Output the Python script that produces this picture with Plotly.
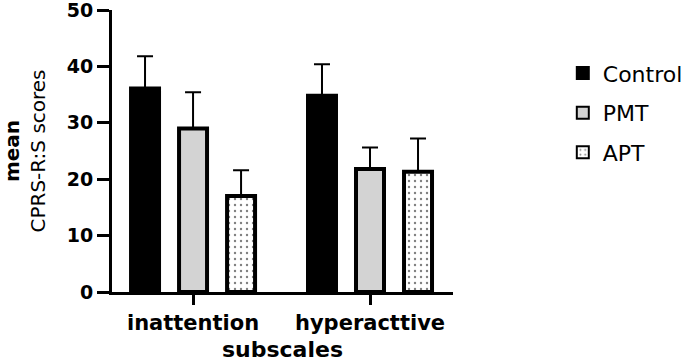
import plotly.graph_objects as go

categories = ["inattention", "hyperacttive"]
series_names = ["Control", "PMT", "APT"]
control_mean = [36.1, 34.8]
control_err = [5.7, 5.6]
pmt_mean = [29.0, 21.8]
pmt_err = [6.4, 3.8]
apt_mean = [17.0, 21.3]
apt_err = [4.6, 5.9]
y_ticks = [0, 10, 20, 30, 40, 50]

FONT = "DejaVu Sans, Arial, sans-serif"

styles = {
    "Control": dict(color="black", line=dict(color="black", width=4)),
    "PMT": dict(color="#d3d3d3", line=dict(color="black", width=4)),
    "APT": dict(color="white", line=dict(color="black", width=4),
                pattern=dict(shape=".", fgcolor="black", bgcolor="white",
                             size=6, solidity=0.12)),
}

means = [control_mean, pmt_mean, apt_mean]
errs = [control_err, pmt_err, apt_err]

fig = go.Figure()
for name, m, e in zip(series_names, means, errs):
    fig.add_trace(go.Bar(
        x=categories, y=m, name=name, legendgroup=name,
        marker=styles[name],
        error_y=dict(type="data", array=e, arrayminus=[0] * len(e),
                     symmetric=False, color="black", thickness=2, width=8),
    ))

fig.update_layout(
    width=690, height=362,
    margin=dict(l=112, r=237, t=10, b=70, autoexpand=False),
    plot_bgcolor="white", paper_bgcolor="white",
    barmode="group", bargap=0.186, bargroupgap=0.417,
    font=dict(family=FONT, color="black"),
    showlegend=True,
    legend=dict(x=1.322, y=0.85, xanchor="left", yanchor="top",
                font=dict(size=22, family=FONT), tracegroupgap=8,
                itemsizing="constant"),
    xaxis=dict(
        range=[-0.458, 1.469], automargin=False,
        showline=True, linecolor="black", linewidth=3,
        ticks="outside", ticklen=10, tickwidth=3, tickcolor="black",
        tickfont=dict(size=21, family=FONT, weight="bold"),
        title=dict(text="<b>subscales</b>", font=dict(size=22), standoff=14),
        showgrid=False, zeroline=False,
    ),
    yaxis=dict(
        range=[0, 50], tickvals=y_ticks, automargin=False,
        ticklabeloverflow="allow",
        showline=True, linecolor="black", linewidth=3,
        ticks="outside", ticklen=12, tickwidth=3, tickcolor="black",
        tickfont=dict(size=19, family=FONT, weight="bold"),
        title=dict(text="<b>mean</b><br>CPRS-R:S scores", font=dict(size=20), standoff=22),
        showgrid=False, zeroline=False,
    ),
)

fig.write_html("out.html", config={"displayModeBar": False},
               post_script="document.body.style.margin='0';document.body.style.overflow='hidden';")
